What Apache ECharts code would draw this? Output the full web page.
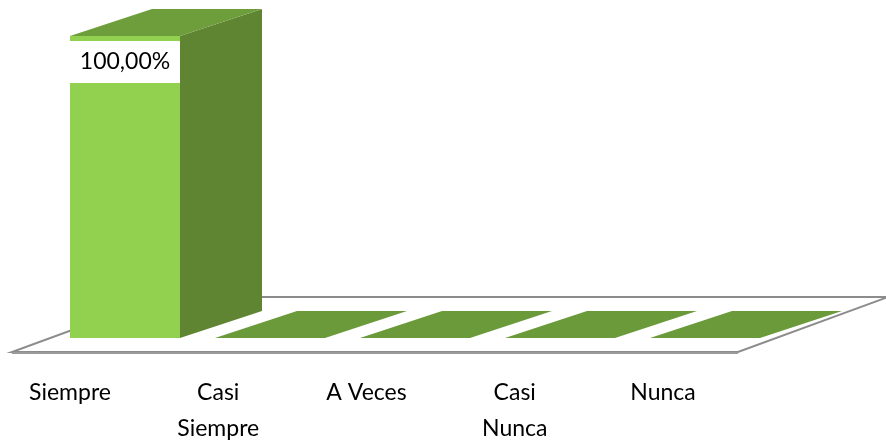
<!DOCTYPE html>
<html>
<head>
<meta charset="utf-8">
<script src="https://cdn.jsdelivr.net/npm/echarts@6/dist/echarts.min.js"></script>
<style>
  html, body { margin: 0; padding: 0; background: #fff; }
  #main { width: 886px; height: 447px; }
</style>
</head>
<body>
<div id="main"></div>
<script>
// datos
const categories = ['Siempre', 'Casi\nSiempre', 'A Veces', 'Casi\nNunca', 'Nunca']
const values = [100, 0, 0, 0, 0]

const colFront = '#92d050'
const colTop = '#6d9e3b'
const colSide = '#5f8533'
const colFlat = '#6a9a3a'
const depthX = 82
const depthY = -27
const barW = 110

const chart = echarts.init(document.getElementById('main'))

function fmtPct(v) {
  return v.toFixed(2).replace('.', ',') + '%'
}

function renderFloor(params, api) {
  const a = api.coord([0, 0])
  const b = api.coord([categories.length - 1, 0])
  const fy = a[1] + 14
  const lx = a[0] - 113
  const rx = b[0] + 33
  const ddx = 150, ddy = -55
  return {
    type: 'group',
    children: [
      {
        type: 'polygon',
        shape: { points: [[lx, fy], [rx, fy], [rx + ddx, fy + ddy], [lx + ddx, fy + ddy]] },
        style: { fill: '#ffffff', stroke: '#8c8c8c', lineWidth: 2 }
      },
      {
        type: 'line',
        shape: { x1: lx, y1: fy + 1, x2: rx, y2: fy + 1 },
        style: { stroke: '#9a9a9a', lineWidth: 2 }
      }
    ]
  }
}

function renderBar(params, api) {
  const idx = api.value(0)
  const v = api.value(1)
  const base = api.coord([idx, 0])
  const top = api.coord([idx, v])
  const x0 = base[0] - barW / 2
  const x1 = base[0] + barW / 2
  const y0 = base[1]
  const y1 = top[1]
  if (v <= 0) {
    return {
      type: 'polygon',
      shape: { points: [[x0, y0], [x1, y0], [x1 + depthX, y0 + depthY], [x0 + depthX, y0 + depthY]] },
      style: { fill: colFlat }
    }
  }
  return {
    type: 'group',
    children: [
      {
        type: 'polygon',
        shape: { points: [[x1, y0], [x1 + depthX, y0 + depthY], [x1 + depthX, y1 + depthY], [x1, y1]] },
        style: { fill: colSide }
      },
      {
        type: 'polygon',
        shape: { points: [[x0, y1], [x1, y1], [x1 + depthX, y1 + depthY], [x0 + depthX, y1 + depthY]] },
        style: { fill: colTop }
      },
      {
        type: 'rect',
        shape: { x: x0, y: y1, width: barW, height: y0 - y1 },
        style: { fill: colFront }
      },
      {
        type: 'rect',
        shape: { x: x0, y: y1 + 5, width: barW, height: 42 },
        style: { fill: '#ffffff' }
      },
      {
        type: 'text',
        x: (x0 + x1) / 2,
        y: y1 + 26,
        style: {
          text: fmtPct(v),
          fill: '#000',
          font: '23px Lato',
          align: 'center',
          verticalAlign: 'middle'
        }
      }
    ]
  }
}

chart.setOption({
  animation: false,
  grid: [
    { left: 52.5, right: 108.5, top: 36, bottom: 109 },
    { left: 70, right: 223, top: 36, bottom: 109 }
  ],
  xAxis: [
    {
      type: 'category', gridIndex: 0, data: categories,
      axisLine: { show: false }, axisTick: { show: false }, axisLabel: { show: false }
    },
    {
      type: 'category', gridIndex: 1, data: categories, boundaryGap: false,
      axisLine: { show: false }, axisTick: { show: false },
      axisLabel: {
        interval: 0, margin: 39, color: '#000',
        fontFamily: 'Lato', fontSize: 23, lineHeight: 36
      }
    }
  ],
  yAxis: [
    { type: 'value', gridIndex: 0, min: 0, max: 100, show: false, splitLine: { show: false } },
    { type: 'value', gridIndex: 1, min: 0, max: 100, show: false, splitLine: { show: false } }
  ],
  series: [
    {
      type: 'custom', xAxisIndex: 0, yAxisIndex: 0, z: 1,
      renderItem: renderFloor,
      data: [[0, 0]]
    },
    {
      type: 'custom', xAxisIndex: 0, yAxisIndex: 0, z: 2,
      renderItem: renderBar,
      data: values.map((v, i) => [i, v])
    }
  ]
})
</script>
</body>
</html>
